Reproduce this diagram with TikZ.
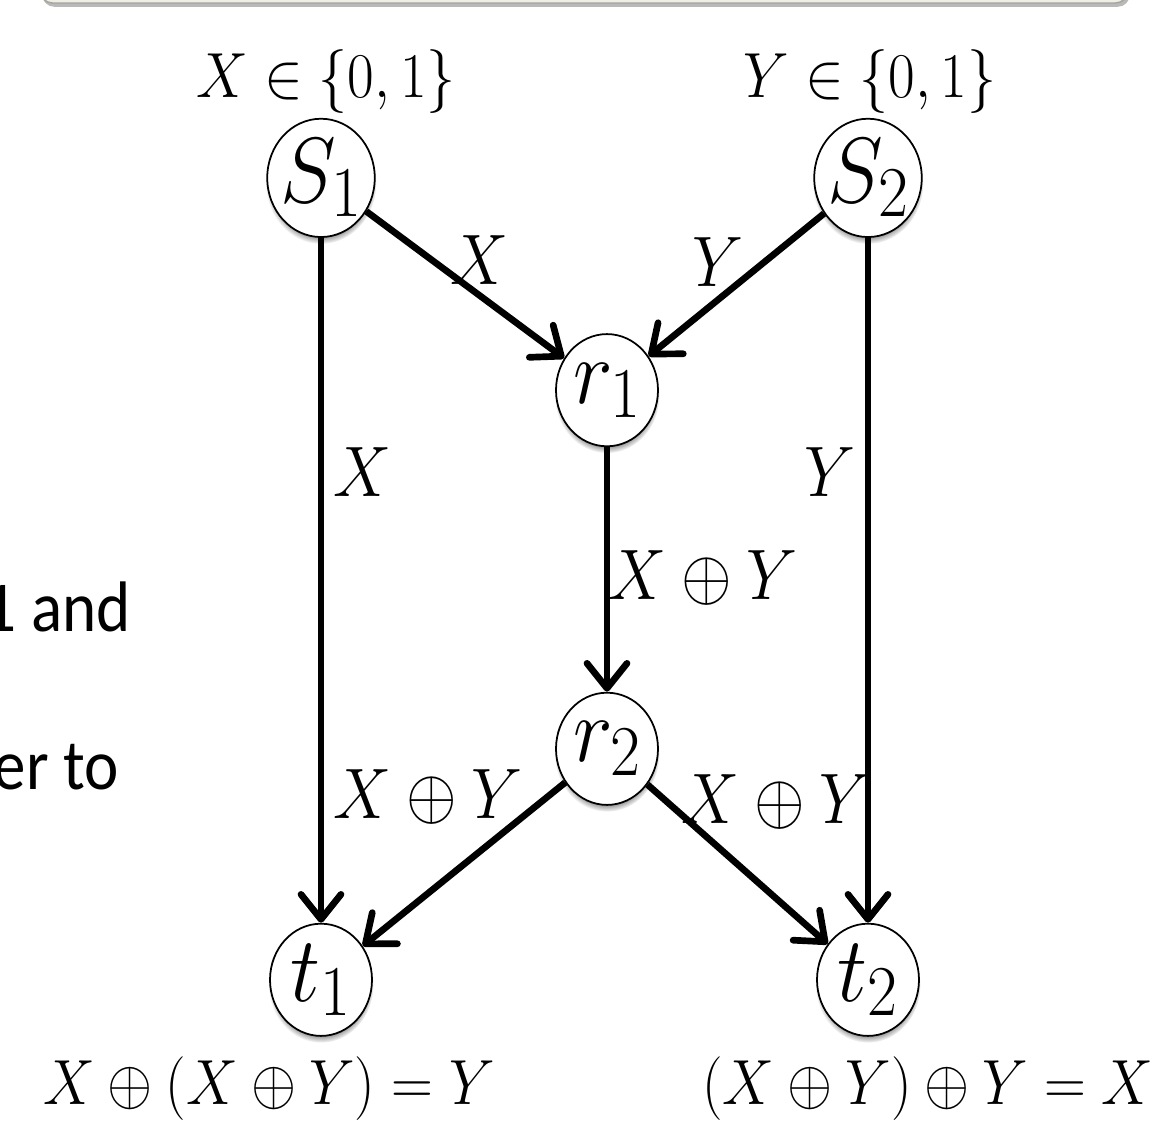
\RequirePackage{fix-cm}
\documentclass[tikz,border=0pt]{standalone}
\usepackage{amsmath}
\usepackage{amssymb}
\usepackage[no-math]{fontspec}
\newfontfamily\slidefont{Carlito}
\usepackage{tikz}
\usetikzlibrary{arrows.meta,shadows}
\definecolor{boxfill}{RGB}{239,238,230}
\definecolor{boxline}{RGB}{165,165,155}
\definecolor{cshadow}{RGB}{185,185,185}
\DeclareMathSizes{48}{48}{37}{28}

\begin{document}
\begin{tikzpicture}[yscale=1.1,line cap=butt,line join=round,
  every node/.append style={transform shape},
  vertex/.style={circle,draw=black,line width=1pt,fill=white,inner sep=0pt,
    minimum size=2.04cm,font=\fontsize{48}{54}\selectfont,
    circular drop shadow={shadow xshift=0pt,shadow yshift=-0.10cm,shadow scale=1.03}},
  flow/.style={line width=3.8pt,-{Straight Barb[length=5mm,width=8mm,round]}},
  setlbl/.style={font=\fontsize{33}{40}\selectfont},
  edgelbl/.style={font=\fontsize{37}{44}\selectfont},
  slidetxt/.style={font=\slidefont\fontsize{37}{44}\selectfont}]

\useasboundingbox (0,0) rectangle (23.14,20.4545);

% ============================ slide remains ============================
\fill[cshadow,rounded corners=0.25cm] (0.84,20.33) rectangle (22.60,21.60);
\filldraw[draw=boxline,fill=boxfill,line width=0.8pt,rounded corners=0.25cm]
  (0.80,20.40) rectangle (22.56,21.60);
\node[slidetxt,anchor=base east] (txtA) at (2.74,8.964) {1 and};
\node[slidetxt,anchor=base east] (txtB) at (2.50,6.091) {er to};

% =============================== nodes ================================
\node[vertex] (S1) at (6.42,17.22)  {$S_1$};
\node[vertex] (S2) at (17.36,17.22) {$S_2$};
\node[vertex] (r1) at (12.14,13.36) {$r_1$};
\node[vertex] (r2) at (12.14,6.84)  {$r_2$};
\node[vertex] (t1) at (6.42,2.64)   {$t_1$};
\node[vertex] (t2) at (17.36,2.64)  {$t_2$};

% =============================== edges ================================
\draw[flow] (S1) -- (r1);
\draw[flow] (S2) -- (r1);
\draw[flow] (S1) -- (t1);
\draw[flow] (S2) -- (t2);
\draw[flow] (r1) -- (r2);
\draw[flow] (r2) -- (t1);
\draw[flow] (r2) -- (t2);

% =============================== labels ===============================
\node[setlbl] (srcX) at (6.52,18.98)  {$X\in\{0,1\}$};
\node[setlbl] (srcY) at (17.40,18.98) {$Y\in\{0,1\}$};

\node[edgelbl] (eX1) at (9.58,15.73)  {$X$};
\node[edgelbl] (eY1) at (14.36,15.69) {$Y$};
\node[edgelbl] (eX2) at (7.24,11.87)  {$X$};
\node[edgelbl] (eY2) at (16.60,11.87) {$Y$};
\node[edgelbl] (eXY) at (14.06,9.95)  {$X\oplus Y$};
\node[edgelbl] (eXYl) at (8.56,5.96)  {$X\oplus Y$};
\node[edgelbl] (eXYr) at (15.52,5.87) {$X\oplus Y$};

\node[setlbl] (outA) at (5.38,0.66)  {$X\oplus(X\oplus Y)=Y$};
\node[setlbl] (outB) at (18.56,0.66) {$(X\oplus Y)\oplus Y=X$};

\end{tikzpicture}
\end{document}
